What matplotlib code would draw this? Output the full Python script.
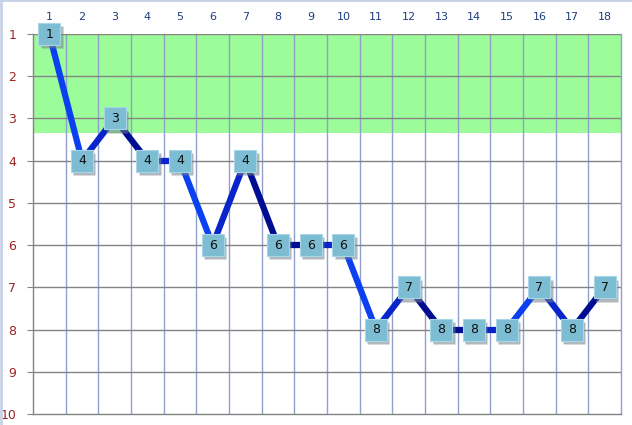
import numpy as np
import matplotlib.pyplot as plt

# data
positions = list(range(1, 19))
values = [1, 4, 3, 4, 4, 6, 4, 6, 6, 6, 8, 7, 8, 8, 8, 7, 8, 7]
band_top = 1
band_bottom = 3.35

bright = '#0a40f0'
medium = '#0a24cc'
dark = '#000c92'
seg_colors = [bright, medium, dark, medium, bright, medium, dark, dark, medium,
              bright, medium, dark, dark, medium, bright, medium, dark]

fig = plt.figure(figsize=(6.32, 4.25), dpi=100)
ax = fig.add_axes([33 / 632, 1 - 414 / 425, 588 / 632, 380 / 425])

ax.set_xlim(0.5, 18.5)
ax.set_ylim(10, 1)

# green zone
ax.axhspan(band_top, band_bottom, color='#9cfc9a', zorder=0, lw=0)

# grid
for xb in np.arange(1.5, 18.5, 1.0):
    ax.axvline(xb, color='#8fa0cc', lw=1, zorder=1)
for yv in range(1, 10):
    ax.axhline(yv, color='#848484', lw=1, zorder=1)

ax.spines['top'].set_visible(False)
ax.spines['bottom'].set_color('#848484')
ax.spines['left'].set_color('#848484')
ax.spines['right'].set_color('#8fa0cc')
for s in ax.spines.values():
    s.set_linewidth(1)

ax.xaxis.tick_top()
ax.set_xticks(positions)
ax.set_xticklabels([str(p) for p in positions], color='#1f3c80', fontsize=8)
ax.tick_params(axis='x', length=0, pad=9)
ax.set_yticks(range(1, 11))
ax.set_yticklabels([str(v) for v in range(1, 11)], color='#9c2424', fontsize=9)
ax.tick_params(axis='y', length=4, color='#848484', pad=8)

# line segments
for i in range(len(values) - 1):
    ax.plot(positions[i:i + 2], values[i:i + 2], color=seg_colors[i], lw=4.5,
            solid_capstyle='butt', zorder=3)

# square markers with labels
for p, v in zip(positions, values):
    ax.plot(p + 0.07, v + 0.08, marker='s', ms=15.5, color='#6f7f88', mec='none',
            alpha=0.55, zorder=4, clip_on=False)
    ax.plot(p, v, marker='s', ms=15.5, color='#7cbdd3', mec='#a8d6e6', mew=0.8,
            zorder=5, clip_on=False)
    ax.text(p, v, str(v), ha='center', va='center', fontsize=9, color='#101010',
            zorder=6, clip_on=False)

fig.add_artist(plt.Line2D([0.001, 0.001], [0, 1], color='#c8d2e6', lw=2))
fig.add_artist(plt.Line2D([0, 1], [0.999, 0.999], color='#c8d2e6', lw=2))

fig.savefig('out.png', dpi=100)
